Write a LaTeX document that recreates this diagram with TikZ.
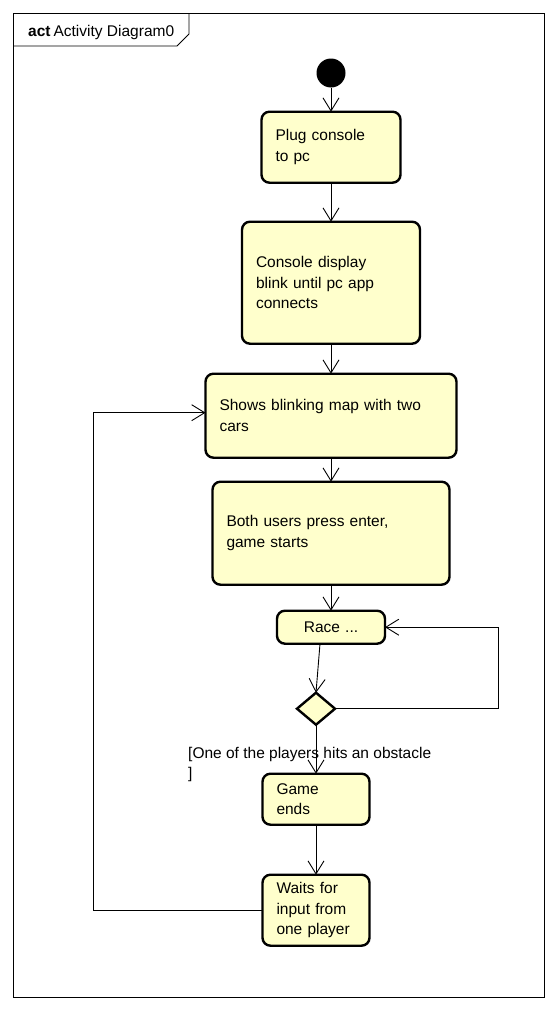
\documentclass[tikz,border=0pt]{standalone}
\usepackage{fontspec}
\setmainfont{Liberation Sans}
\usepackage{xcolor}
\usepackage{tikz}
\usetikzlibrary{shapes.geometric, arrows.meta, positioning}

\definecolor{actfill}{HTML}{FFFFCC}
\newcommand{\diagfont}{\fontsize{15.5pt}{20.5pt}\selectfont}

\begin{document}
\begin{tikzpicture}[
    x=1pt, y=-1pt,
    font=\diagfont,
    start/.style={circle, fill=black, minimum size=29pt, inner sep=0pt},
    act/.style={rectangle, draw, rounded corners=8pt, line width=2.4pt, fill=actfill, align=left, inner xsep=14pt, inner ysep=0pt, outer sep=0pt},
    decision/.style={diamond, draw, line width=2.4pt, fill=actfill, minimum width=38pt, minimum height=32pt, inner sep=0pt, outer sep=0pt},
    arrow/.style={-{Straight Barb[length=13pt, width=16pt]}, line width=0.9pt}
]
\useasboundingbox (0,0) rectangle (557,1012);

% frame
\draw[line width=0.9pt] (13,13) rectangle (544,997);
\draw[line width=0.9pt] (13,46) -- (177,46) -- (189,34) -- (189,13);
\node[anchor=base west, inner sep=0pt] (title) at (28,36) {\textbf{act}\hspace{3pt}Activity Diagram0};

\node[start] (init) at (331,73) {};
\node[act, below=24pt of init, text width=111pt, minimum height=71pt] (plug) {Plug console\\to pc};
\node[act, below=39pt of plug, text width=150pt, minimum height=122pt] (console) {Console display\\blink until pc app\\connects};
\node[act, below=30pt of console, text width=223pt, minimum height=84pt] (shows) {Shows blinking map with two\\cars};
\node[act, below=24pt of shows, text width=209pt, minimum height=103pt] (both) {Both users press enter,\\game starts};
\node[act, below=26pt of both, text width=80pt, minimum height=33pt, align=center] (race) {Race ...};
\node[decision, below=49pt of race, xshift=-15pt] (dec) {};
\node[act, below=49pt of dec, text width=79pt, minimum height=51pt] (game) {Game\\ends};
\node[act, below=50pt of game, text width=79pt, minimum height=71pt] (waits) {Waits for\\input from\\one player};
\node[anchor=north west, inner sep=0pt, align=left] (guard) at (188,747) {[One of the players hits an obstacle\\]};

\draw[arrow] (init) -- (plug);
\draw[arrow] (plug) -- (console);
\draw[arrow] (console) -- (shows);
\draw[arrow] (shows) -- (both);
\draw[arrow] (both) -- (race);
\draw[arrow] ([xshift=-11pt]race.south) -- (dec.north);
\draw[arrow] (dec.east) -- ++(163,0) |- (race.east);
\draw[arrow] (dec) -- (game);
\draw[arrow] (game) -- (waits);
\draw[arrow] (waits.west) -- ++(-169,0) |- ([yshift=3pt]shows.west);
\end{tikzpicture}
\end{document}
